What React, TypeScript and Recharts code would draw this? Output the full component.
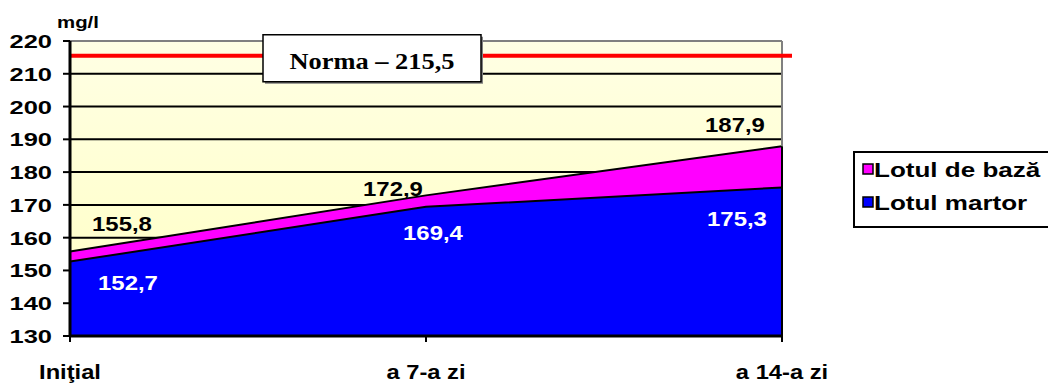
import {
  AreaChart,
  Area,
  XAxis,
  YAxis,
  CartesianGrid,
  ReferenceLine,
  LabelList,
  Label,
} from "recharts";

const days = ["Iniţial", "a 7-a zi", "a 14-a zi"];
const lotulDeBaza = [155.8, 172.9, 187.9];
const lotulMartor = [152.7, 169.4, 175.3];
const norma = 215.5;
const yTicks = [130, 140, 150, 160, 170, 180, 190, 200, 210, 220];

const series = [
  { key: "baza", name: "Lotul de bază", color: "#FF00FF" },
  { key: "martor", name: "Lotul martor", color: "#0000FF" },
];

const data = days.map((day, i) => ({
  day,
  baza: lotulDeBaza[i],
  martor: lotulMartor[i],
}));

const SANS = "'Liberation Sans', Arial, sans-serif";
const SERIF = "'Liberation Serif', 'Times New Roman', serif";

// label offsets from each point (centre x, baseline y)
const bazaOffsets = [
  [52, -20],
  [-33, 1],
  [-47, -14],
];
const martorOffsets = [
  [58, 28],
  [7, 33],
  [-45, 38],
];

const fmt = (v: number) => v.toFixed(1).replace(".", ",");

// bold text stretched horizontally, like the wide lettering of the old sheet
const WideText = ({ x, y, size, sx = 1.15, anchor = "start", color = "#000", family = SANS, children }: any) => (
  <text
    transform={`translate(${x},${y}) scale(${sx},1)`}
    textAnchor={anchor}
    fontFamily={family}
    fontWeight="bold"
    fontSize={size}
    fill={color}
  >
    {children}
  </text>
);

const pointLabel = (offsets: number[][], color: string) => (props: any) => {
  const { x, y, value, index } = props;
  const [dx, dy] = offsets[index] || [0, 0];
  return (
    <WideText x={x + dx} y={y + dy} size={21} sx={1.14} anchor="middle" color={color}>
      {fmt(Number(value))}
    </WideText>
  );
};

const YTick = ({ x, y, payload }: any) => (
  <WideText x={x} y={y + 7} size={19} sx={1.34} anchor="end">
    {payload.value}
  </WideText>
);

const XTick = ({ x, y, payload }: any) => (
  <WideText x={x} y={y + 35} size={21} sx={1.13} anchor="middle">
    {payload.value}
  </WideText>
);

const NormaBox = ({ viewBox }: any) => {
  const bx = viewBox.x + 193;
  const by = viewBox.y - 21;
  return (
    <g>
      <rect x={bx + 2} y={by + 2} width={218} height={47} fill="#808080" />
      <rect x={bx} y={by} width={218} height={47} fill="#fff" stroke="#000" strokeWidth={1.5} />
      <WideText x={bx + 109} y={by + 34} size={24} sx={1.1} anchor="middle" family={SERIF}>
        {`Norma – ${fmt(norma)}`}
      </WideText>
    </g>
  );
};

const UnitLabel = ({ viewBox }: any) => (
  <WideText x={viewBox.x + viewBox.width - 13} y={viewBox.y - 13} size={17} sx={1.2}>
    mg/l
  </WideText>
);

const EdgeLine = (props: any) => {
  const { x1, y1, x2, y2 } = props;
  return <line x1={x1} y1={y1} x2={x2 + 10} y2={y2} stroke="#FF0000" strokeWidth={4} />;
};

function LegendBox() {
  return (
    <svg
      width={200}
      height={78}
      style={{ position: "absolute", left: 853, top: 151, display: "block" }}
    >
      <rect x={1} y={1} width={210} height={75} fill="#fff" stroke="#000" strokeWidth={2} />
      {series.map((s, i) => {
        const cy = 18 + i * 33;
        return (
          <g key={s.key}>
            <rect x={10} y={cy - 5} width={10} height={10} fill={s.color} stroke="#000" strokeWidth={1.5} />
            <WideText x={21} y={cy + 8} size={21} sx={1.24}>
              {s.name}
            </WideText>
          </g>
        );
      })}
    </svg>
  );
}

export default function App() {
  return (
    <div style={{ position: "relative", width: 1048, height: 383, overflow: "hidden", background: "#fff" }}>
      <style>{"body{margin:0}"}</style>
      <AreaChart
        width={1048}
        height={383}
        data={data}
        margin={{ top: 41, right: 266, bottom: 0, left: 0 }}
      >
        <defs>
          <linearGradient id="plotBg" x1="0" y1="0" x2="0" y2="1">
            <stop offset="0%" stopColor="#FFFFE4" />
            <stop offset="100%" stopColor="#FFFFC2" />
          </linearGradient>
        </defs>
        <CartesianGrid
          vertical={false}
          stroke="#000"
          strokeWidth={2}
          fill="url(#plotBg)"
          fillOpacity={1}
        />
        <XAxis
          dataKey="day"
          height={47}
          tickSize={6}
          tickMargin={2}
          tick={<XTick />}
          axisLine={{ stroke: "#000", strokeWidth: 3 }}
          tickLine={{ stroke: "#000", strokeWidth: 2 }}
        />
        <YAxis
          width={70}
          domain={[130, 220]}
          ticks={yTicks}
          interval={0}
          tickSize={7}
          tickMargin={11}
          tick={<YTick />}
          axisLine={{ stroke: "#000", strokeWidth: 3 }}
          tickLine={{ stroke: "#000", strokeWidth: 2 }}
        >
          <Label content={<UnitLabel />} />
        </YAxis>
        <ReferenceLine y={220} stroke="#808080" strokeWidth={2} />
        <Area
          type="linear"
          dataKey="baza"
          name={series[0].name}
          fill={series[0].color}
          fillOpacity={1}
          stroke="#000"
          strokeWidth={2}
          dot={false}
          activeDot={false}
          isAnimationActive={false}
        >
          <LabelList dataKey="baza" content={pointLabel(bazaOffsets, "#000")} />
        </Area>
        <Area
          type="linear"
          dataKey="martor"
          name={series[1].name}
          fill={series[1].color}
          fillOpacity={1}
          stroke="#000"
          strokeWidth={2}
          dot={false}
          activeDot={false}
          isAnimationActive={false}
        >
          <LabelList dataKey="martor" content={pointLabel(martorOffsets, "#fff")} />
        </Area>
        <ReferenceLine
          segment={[
            { x: days[2], y: 220 },
            { x: days[2], y: lotulDeBaza[2] },
          ]}
          stroke="#808080"
          strokeWidth={2}
        />
        <ReferenceLine
          segment={[
            { x: days[2], y: 130 },
            { x: days[2], y: lotulDeBaza[2] },
          ]}
          stroke="#000"
          strokeWidth={2}
        />
        <ReferenceLine y={norma} shape={<EdgeLine />} label={<NormaBox />} />
      </AreaChart>
      <LegendBox />
    </div>
  );
}
